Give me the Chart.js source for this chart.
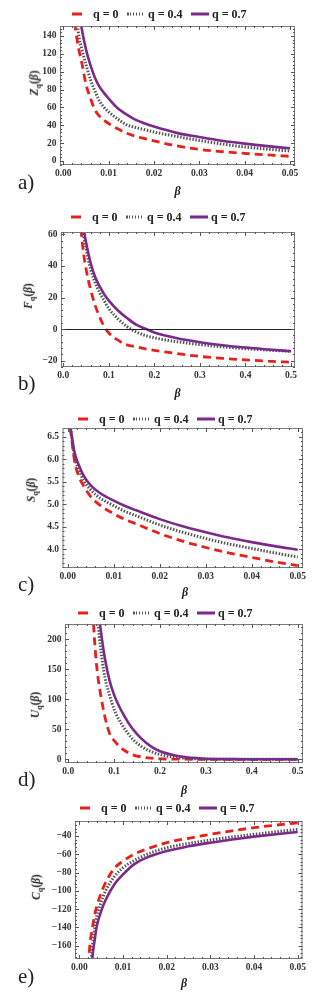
<!DOCTYPE html>
<html>
<head>
<meta charset="utf-8">
<script src="https://cdn.jsdelivr.net/npm/chart.js@4.4.1/dist/chart.umd.min.js"></script>
<style>
  html, body { margin: 0; padding: 0; background: #fff; }
  body { width: 327px; height: 995px; position: relative; overflow: hidden;
         font-family: "Liberation Serif", "Times New Roman", serif; color: #222; }
  canvas { position: absolute; left: 0; }
  .lg { position: absolute; font-size: 12px; font-weight: bold; line-height: 1; white-space: nowrap; transform: translateY(-50%); }
  .sw { position: absolute; height: 3px; transform: translateY(-50%); }
  .dash { background: #e8201c; }
  .dots { background: repeating-linear-gradient(90deg, #555 0 1.5px, transparent 1.5px 3px); }
  .solid { background: #7b2a8c; }
  .tag { position: absolute; left: 18px; font-size: 21px; line-height: 1; transform: translateY(-50%); }
  .beta { position: absolute; font-size: 12px; font-style: italic; font-weight: bold; line-height: 1; transform: translate(-50%, -50%); }
  .ylab { position: absolute; font-size: 11.5px; font-weight: bold; line-height: 1; white-space: nowrap;
          transform: translate(-50%, -50%) rotate(-90deg); }
  .ylab sub { font-size: 8px; }
</style>
</head>
<body>
<script>
(function () {
  "use strict";

  const qLabels = ["q = 0", "q = 0.4", "q = 0.7"];

  // a) Z_q(beta)
  const betaZ = [0.0025, 0.003, 0.0035, 0.004, 0.005, 0.006, 0.007, 0.008, 0.009, 0.01, 0.012, 0.014, 0.016, 0.018, 0.02, 0.025, 0.03, 0.035, 0.04, 0.045, 0.05];
  const zQ0  = [155, 137, 123, 112, 86, 70, 57, 50, 45.5, 42, 36, 31, 27.5, 25, 22.5, 17, 13, 10.5, 8.5, 6.8, 5.2];
  const zQ04 = [190, 158, 138, 127, 108, 91, 78, 67, 60, 55, 47, 40.5, 37.5, 35, 32.5, 27.5, 23, 19, 15.7, 13.2, 11.2];
  const zQ07 = [220, 190, 168, 150, 125, 107, 93, 83, 76, 70, 59, 52, 46, 42, 38.5, 31.5, 26.9, 22.7, 19.4, 16.6, 14.2];
  const zTicksX = [0, 0.01, 0.02, 0.03, 0.04, 0.05];
  const zTicksY = [0, 20, 40, 60, 80, 100, 120, 140];

  // b) F_q(beta)
  const betaF = [0.035, 0.04, 0.045, 0.05, 0.06, 0.07, 0.08, 0.09, 0.1, 0.12, 0.14, 0.16, 0.18, 0.2, 0.25, 0.3, 0.35, 0.4, 0.45, 0.5];
  const fQ0  = [80, 60, 47, 38, 25, 15, 7.5, 1.5, -2.5, -7, -10, -11.2, -12.5, -13.5, -15.5, -17.3, -18.5, -19.5, -20.3, -21];
  const fQ04 = [80, 68, 59, 51, 38, 29.5, 23, 18, 13, 6.5, 1.5, -1.8, -4, -5.5, -8, -9.8, -11.2, -12.4, -13.3, -14.1];
  const fQ07 = [85, 72, 63, 55, 42, 33, 27, 22, 18, 11.8, 7, 2.8, 0.3, -2.2, -5.8, -8.3, -10.2, -11.7, -12.9, -14];
  const fTicksX = [0, 0.1, 0.2, 0.3, 0.4, 0.5];
  const fTicksY = [-20, 0, 20, 40, 60];

  // c) S_q(beta)
  const betaS = [0.0006, 0.0015, 0.0025, 0.0035, 0.005, 0.007, 0.01, 0.0125, 0.015, 0.02, 0.025, 0.03, 0.035, 0.04, 0.045, 0.05];
  const sQ0  = [6.68, 5.95, 5.6, 5.4, 5.17, 4.98, 4.79, 4.66, 4.56, 4.35, 4.18, 4.04, 3.92, 3.82, 3.72, 3.64];
  const sQ04 = [6.69, 6.05, 5.75, 5.52, 5.32, 5.14, 4.97, 4.84, 4.74, 4.54, 4.38, 4.24, 4.12, 4.02, 3.92, 3.83];
  const sQ07 = [6.7, 6.15, 5.85, 5.63, 5.42, 5.25, 5.08, 4.96, 4.86, 4.67, 4.51, 4.38, 4.26, 4.16, 4.07, 3.99];
  const sTicksX = [0, 0.01, 0.02, 0.03, 0.04, 0.05];
  const sTicksY = [4.0, 4.5, 5.0, 5.5, 6.0, 6.5];

  // d) U_q(beta)
  const betaU = [0.05, 0.055, 0.06, 0.065, 0.07, 0.08, 0.09, 0.1, 0.12, 0.14, 0.16, 0.18, 0.2, 0.25, 0.3, 0.35, 0.4, 0.45, 0.5];
  const uQ0  = [290, 225, 170, 135, 110, 70, 43, 31, 16, 7.5, 3.8, 1.8, 0.8, 0.2, 0, 0, 0, 0, 0];
  const uQ04 = [370, 310, 265, 225, 188, 136, 107, 83, 54, 34, 21, 13, 8, 2, 0.5, 0.1, 0, 0, 0];
  const uQ07 = [410, 350, 300, 255, 220, 167, 131, 107, 75, 51, 34, 21.5, 13.5, 4, 1, 0.3, 0.1, 0, 0];
  const uTicksX = [0, 0.1, 0.2, 0.3, 0.4, 0.5];
  const uTicksY = [0, 50, 100, 150, 200];

  // e) C_q(beta)
  const betaC = [0.002, 0.0025, 0.003, 0.0035, 0.004, 0.005, 0.006, 0.008, 0.01, 0.0125, 0.015, 0.02, 0.025, 0.03, 0.035, 0.04, 0.045, 0.05];
  const cQ0  = [-182, -155, -140, -126, -116.6, -102, -91, -75.5, -67.4, -60, -55, -47.3, -42.5, -38.2, -34.3, -30.9, -28.1, -25.6];
  const cQ04 = [-250, -195, -160, -142, -127.5, -112, -100, -84.5, -74.6, -67, -61, -52.8, -48.2, -44.4, -41.1, -38.2, -35.4, -32.7];
  const cQ07 = [-260, -210, -172, -154, -138.5, -122, -110, -93, -82, -71, -64.5, -56.4, -51.3, -47.3, -43.8, -40.7, -38, -35.6];
  const cTicksX = [0, 0.01, 0.02, 0.03, 0.04, 0.05];
  const cTicksY = [-160, -140, -120, -100, -80, -60, -40];

  const RED = "#e8201c", GRAY = "#555", PURPLE = "#7b2a8c";
  const tickFont = { family: "Liberation Serif", size: 9.5, weight: "bold" };

  const pts = (xs, ys) => xs.map((x, i) => ({ x, y: ys[i] }));
  const fmt = (d) => (v) => Number(v).toFixed(d).replace("-", "\u2212");

  // Mathematica style frame with inward ticks on all sides
  const framePlugin = {
    id: "frame",
    afterDatasetsDraw(chart, args, opts) {
      const { ctx, chartArea: a, scales: { x, y } } = chart;
      ctx.save();
      if (opts.zeroLine) {
        const py = Math.round(y.getPixelForValue(0)) + 0.5;
        ctx.strokeStyle = "#222";
        ctx.lineWidth = 1;
        ctx.beginPath(); ctx.moveTo(a.left, py); ctx.lineTo(a.right, py); ctx.stroke();
      }
      ctx.strokeStyle = "#7a7a7a";
      ctx.lineWidth = 1;
      ctx.strokeRect(a.left + 0.5, a.top + 0.5, a.right - a.left - 1, a.bottom - a.top - 1);

      const marks = (scale) => {
        const vals = scale.ticks.map(t => t.value);
        const step = vals[1] - vals[0];
        const out = [];
        for (let i = -5; i <= (vals.length - 1) * 5 + 5; i++) {
          const v = vals[0] + i * step / 5;
          if (v < scale.min || v > scale.max) continue;
          out.push({ p: scale.getPixelForValue(v), major: i % 5 === 0 });
        }
        return out;
      };
      ctx.strokeStyle = "#555";
      ctx.beginPath();
      marks(x).forEach(m => {
        const len = m.major ? 4 : 2, px = Math.round(m.p) + 0.5;
        ctx.moveTo(px, a.bottom); ctx.lineTo(px, a.bottom - len);
        ctx.moveTo(px, a.top); ctx.lineTo(px, a.top + len);
      });
      marks(y).forEach(m => {
        const len = m.major ? 4 : 2, py = Math.round(m.p) + 0.5;
        ctx.moveTo(a.left, py); ctx.lineTo(a.left + len, py);
        ctx.moveTo(a.right, py); ctx.lineTo(a.right - len, py);
      });
      ctx.stroke();
      ctx.restore();
    }
  };

  function makePanel(p) {
    const cv = document.createElement("canvas");
    cv.width = 327; cv.height = p.h;
    cv.style.top = p.top + "px";
    cv.style.width = "327px"; cv.style.height = p.h + "px";
    document.body.appendChild(cv);

    const xAxisH = 20;
    const line = (data, color, width, dash, order) => ({
      data, borderColor: color, borderWidth: width, borderDash: dash, order,
      pointRadius: 0, fill: false, cubicInterpolationMode: "monotone"
    });

    new Chart(cv, {
      type: "line",
      data: {
        datasets: [
          line(pts(p.xs, p.y07), PURPLE, 2.6, [], 0),
          line(pts(p.xs, p.y04), GRAY, 3, [1.5, 1.6], 1),
          line(pts(p.xs, p.y0), RED, 2.8, [8, 5], 2)
        ]
      },
      options: {
        responsive: false,
        animation: false,
        layout: {
          padding: {
            left: 0,
            top: p.box.top - p.top,
            right: 327 - p.box.right,
            bottom: p.top + p.h - p.box.bottom - xAxisH
          }
        },
        plugins: { legend: { display: false }, tooltip: { enabled: false }, frame: { zeroLine: !!p.zeroLine } },
        scales: {
          x: {
            type: "linear", min: p.xMin, max: p.xMax,
            grid: { display: false, drawTicks: false }, border: { display: false },
            afterBuildTicks: s => { s.ticks = p.ticksX.map(v => ({ value: v })); },
            afterFit: s => { s.height = xAxisH; },
            ticks: { font: tickFont, color: "#333", padding: 3, maxRotation: 0, autoSkip: false, callback: fmt(p.dx) }
          },
          y: {
            type: "linear", min: p.yMin, max: p.yMax,
            grid: { display: false, drawTicks: false }, border: { display: false },
            afterBuildTicks: s => { s.ticks = p.ticksY.map(v => ({ value: v })); },
            afterFit: s => { s.width = p.box.left; },
            ticks: { font: tickFont, color: "#333", padding: 3.5, autoSkip: false, callback: fmt(p.dy) }
          }
        }
      },
      plugins: [framePlugin]
    });

    // legend
    const L = p.legX, cy = p.legY;
    const add = (cls, left, width, html) => {
      const el = document.createElement(html === undefined ? "div" : "div");
      el.className = cls;
      el.style.left = left + "px";
      el.style.top = cy + "px";
      if (width) el.style.width = width + "px";
      if (html !== undefined) el.textContent = html;
      document.body.appendChild(el);
    };
    add("sw dash", L, 10);
    add("lg", L + 21, 0, qLabels[0]);
    add("sw dots", L + 55, 16);
    add("lg", L + 76, 0, qLabels[1]);
    add("sw solid", L + 119, 18);
    add("lg", L + 140, 0, qLabels[2]);

    const tag = document.createElement("div");
    tag.className = "tag"; tag.textContent = p.tag; tag.style.top = p.tagY + "px";
    document.body.appendChild(tag);

    const b = document.createElement("div");
    b.className = "beta"; b.textContent = "\u03b2";
    b.style.left = p.betaPos[0] + "px"; b.style.top = p.betaPos[1] + "px";
    document.body.appendChild(b);

    const yl = document.createElement("div");
    yl.className = "ylab";
    yl.innerHTML = "<i>" + p.sym + "</i><sub>q</sub>(<i>\u03b2</i>)";
    yl.style.left = p.ylabPos[0] + "px"; yl.style.top = p.ylabPos[1] + "px";
    document.body.appendChild(yl);
  }

  makePanel({ top: 0, h: 197, box: { left: 60, right: 295, top: 26, bottom: 165 },
    xs: betaZ, y0: zQ0, y04: zQ04, y07: zQ07, ticksX: zTicksX, ticksY: zTicksY,
    xMin: -0.00073, xMax: 0.0511, yMin: -4.5, yMax: 151.2, dx: 2, dy: 0,
    legX: 72, legY: 14, tag: "a)", tagY: 182, betaPos: [177.5, 191], sym: "Z", ylabPos: [36, 83] });

  makePanel({ top: 197, h: 197, box: { left: 61, right: 295, top: 232, bottom: 367 },
    xs: betaF, y0: fQ0, y04: fQ04, y07: fQ07, ticksX: fTicksX, ticksY: fTicksY,
    xMin: -0.005, xMax: 0.5087, yMin: -24, yMax: 61.5, dx: 1, dy: 0, zeroLine: true,
    legX: 71, legY: 216.7, tag: "b)", tagY: 383, betaPos: [177.5, 393], sym: "F", ylabPos: [30, 296] });

  makePanel({ top: 394, h: 197, box: { left: 62.5, right: 303, top: 428, bottom: 568 },
    xs: betaS, y0: sQ0, y04: sQ04, y07: sQ07, ticksX: sTicksX, ticksY: sTicksY,
    xMin: -0.00113, xMax: 0.05115, yMin: 3.585, yMax: 6.693, dx: 2, dy: 1,
    legX: 78, legY: 419, tag: "c)", tagY: 584, betaPos: [185, 592], sym: "S", ylabPos: [33, 490] });

  makePanel({ top: 591, h: 197, box: { left: 65, right: 303, top: 624, bottom: 763 },
    xs: betaU, y0: uQ0, y04: uQ04, y07: uQ07, ticksX: uTicksX, ticksY: uTicksY,
    xMin: -0.0072, xMax: 0.5116, yMin: -6.2, yMax: 225.5, dx: 1, dy: 0,
    legX: 78, legY: 613, tag: "d)", tagY: 779, betaPos: [184, 790], sym: "U", ylabPos: [37, 705] });

  makePanel({ top: 788, h: 207, box: { left: 75, right: 302.5, top: 821, bottom: 959 },
    xs: betaC, y0: cQ0, y04: cQ04, y07: cQ07, ticksX: cTicksX, ticksY: cTicksY,
    xMin: -0.001, xMax: 0.0511, yMin: -174.5, yMax: -23.6, dx: 2, dy: 0,
    legX: 80, legY: 808, tag: "e)", tagY: 976, betaPos: [184, 983], sym: "C", ylabPos: [38, 887] });
})();
</script>
</body>
</html>
